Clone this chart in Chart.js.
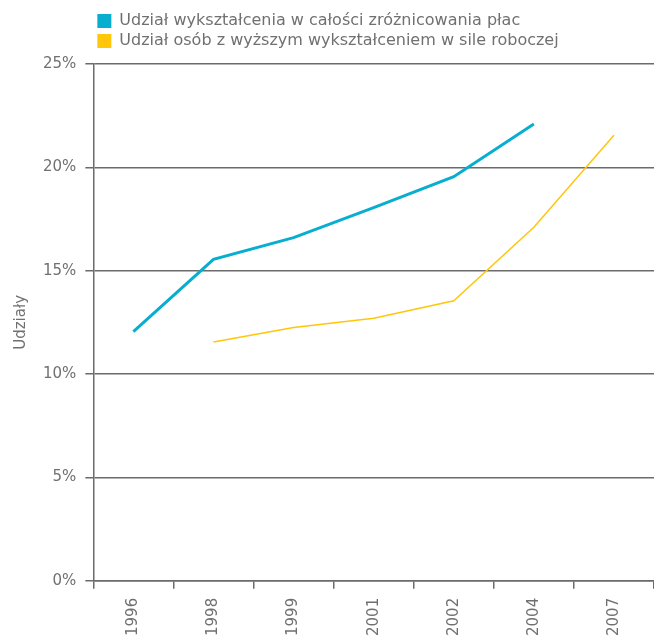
<!DOCTYPE html>
<html>
<head>
<meta charset="utf-8">
<script src="https://cdn.jsdelivr.net/npm/chart.js@4/dist/chart.umd.min.js"></script>
<style>
body{margin:0;background:#fff}
#wrap{width:654px;height:640px}
</style>
</head>
<body>
<div id="wrap"><canvas id="chart" width="654" height="640"></canvas></div>
<script>
let years=['1996','1998','1999','2001','2002','2004','2007'];
let educShare=[12.05,15.55,16.6,18.05,19.55,22.1,null];
let graduatesShare=[null,11.55,12.25,12.7,13.55,17.1,21.55];
let yMax=25, yStep=5;

let gray='#6b6b6b';
let txt='#707070';
let font={family:"'DejaVu Sans', sans-serif",size:15};

// legend needs a bit more room below it
let legendGap={
    id:'legendGap',
    beforeInit(chart){
        let fit=chart.legend.fit;
        chart.legend.fit=function(){
            fit.bind(chart.legend)();
            this.height+=5;
        };
    }
};

let ctx=document.getElementById('chart').getContext('2d');
let chart=new Chart(ctx,{
    type:'line',
    data:{
        labels:years,
        datasets:[
            {label:'Udział wykształcenia w całości zróżnicowania płac',data:educShare,
             borderColor:'#08aecf',backgroundColor:'#08aecf',borderWidth:3,pointRadius:0,tension:0},
            {label:'Udział osób z wyższym wykształceniem w sile roboczej',data:graduatesShare,
             borderColor:'#ffc60a',backgroundColor:'#ffc60a',borderWidth:1.5,pointRadius:0,tension:0}
        ]
    },
    options:{
        responsive:false,
        animation:false,
        devicePixelRatio:1,
        layout:{padding:{top:9,bottom:-5,right:0}},
        plugins:{
            legend:{
                position:'top',align:'start',fullSize:false,
                labels:{
                    boxWidth:14,boxHeight:14,padding:4,color:txt,
                    font:{family:"'DejaVu Sans', sans-serif",size:16},
                    generateLabels(c){
                        return Chart.defaults.plugins.legend.labels.generateLabels(c).map(l=>({...l,lineWidth:0}));
                    }
                }
            },
            tooltip:{enabled:false}
        },
        scales:{
            x:{
                offset:true,
                grid:{offset:true,drawOnChartArea:false,drawTicks:true,tickLength:8,color:gray,lineWidth:1.5},
                border:{display:true,color:gray,width:1.5},
                ticks:{minRotation:90,maxRotation:90,autoSkip:false,padding:9,color:txt,font:font}
            },
            y:{
                min:0,max:yMax,
                grid:{color:gray,lineWidth:1.5,tickLength:8},
                border:{display:true,color:gray,width:1.5},
                ticks:{stepSize:yStep,padding:9,color:txt,font:font,callback:v=>v+'%'},
                title:{display:true,text:'Udziały',color:txt,
                       font:{family:"'DejaVu Sans', sans-serif",size:15},padding:{top:12,bottom:4}}
            }
        }
    },
    plugins:[legendGap]
});
</script>
</body>
</html>
